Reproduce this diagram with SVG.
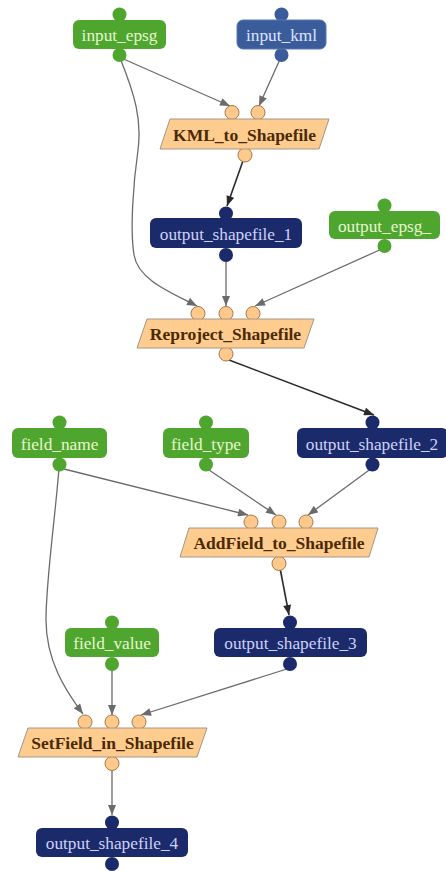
<svg xmlns="http://www.w3.org/2000/svg" width="446" height="871" viewBox="0 0 446 871">
<style>
.e{fill:none;stroke:#6b6b6b;stroke-width:1.3}
.ed{fill:none;stroke:#2a2a2a;stroke-width:1.6}
.g{fill:#4fa62e}
.b{fill:#3b5c9b}
.n{fill:#1b2a6a}
.gt{fill:#e6f6cf}
.bt{fill:#dbe4ff}
.nt{fill:#cdd1f7}
.t{font-family:"Liberation Serif","Times New Roman",serif;font-size:17.3px;text-anchor:middle}
.pt{font-family:"Liberation Serif","Times New Roman",serif;font-size:17.5px;font-weight:bold;text-anchor:middle;fill:#4a2a05}
.p{fill:#ffcc8f;stroke:#a49686;stroke-width:1}
.po{fill:#ffc98b;stroke:#a5784a;stroke-width:1}
</style>
<defs>
<marker id="a" viewBox="0 0 10 8" refX="10" refY="4" markerWidth="11" markerHeight="8" markerUnits="userSpaceOnUse" orient="auto"><path d="M0,0 L10,4 L0,8 z" fill="#6b6b6b"/></marker>
<marker id="ad" viewBox="0 0 10 8" refX="10" refY="4" markerWidth="11" markerHeight="8" markerUnits="userSpaceOnUse" orient="auto"><path d="M0,0 L10,4 L0,8 z" fill="#2a2a2a"/></marker>
</defs>
<rect width="446" height="871" fill="#ffffff"/>
<g id="connectors">
<path class="e" marker-end="url(#a)" d="M119,57 L230,106"/>
<path class="e" marker-end="url(#a)" d="M281,57 L259,106"/>
<path class="e" marker-end="url(#a)" d="M120,58 C135,95 142,120 138,150 C133,185 130,230 134,255 C138,280 172,293 197,306"/>
<path class="ed" marker-end="url(#ad)" d="M244,158 L227,206"/>
<path class="e" marker-end="url(#a)" d="M226,258 L226,306"/>
<path class="e" marker-end="url(#a)" d="M384,248 L255,306"/>
<path class="ed" marker-end="url(#ad)" d="M229,360 L374,415"/>
<path class="e" marker-end="url(#a)" d="M60,468 L248,515"/>
<path class="e" marker-end="url(#a)" d="M206,468 L276,515"/>
<path class="e" marker-end="url(#a)" d="M372,468 L308,515"/>
<path class="e" marker-end="url(#a)" d="M59,468 C55,520 46,580 46,620 C46,660 65,690 83,714"/>
<path class="ed" marker-end="url(#ad)" d="M280,568 L289,615"/>
<path class="e" marker-end="url(#a)" d="M112,668 L112,715"/>
<path class="e" marker-end="url(#a)" d="M290,668 L141,715"/>
<path class="e" marker-end="url(#a)" d="M112,768 L112,815"/>
</g>
<g id="input_epsg">
<circle class="g" cx="119.5" cy="14.5" r="7"/><circle class="g" cx="119.5" cy="55" r="7"/>
<rect class="g" x="73" y="20" width="93" height="29" rx="6"/>
<text class="t gt" x="119.5" y="41">input_epsg</text>
</g>
<g id="input_kml">
<circle class="b" cx="281.5" cy="14.5" r="7"/><circle class="b" cx="281.5" cy="55" r="7"/>
<rect class="b" x="237" y="20" width="89" height="29" rx="6" stroke="#5a78b0" stroke-width="1"/>
<text class="t bt" x="281.5" y="41">input_kml</text>
</g>
<g id="KML_to_Shapefile">
<circle class="po" cx="232" cy="112.5" r="7"/><circle class="po" cx="258" cy="112.5" r="7"/><circle class="po" cx="245" cy="155" r="7"/>
<polygon class="p" points="170,119 329,119 319,149 160,149"/>
<text class="pt" x="244.5" y="141">KML_to_Shapefile</text>
</g>
<g id="output_shapefile_1">
<circle class="n" cx="226" cy="213.5" r="7"/><circle class="n" cx="226" cy="255" r="7"/>
<rect class="n" x="150" y="218" width="152" height="30" rx="6"/>
<text class="t nt" x="226" y="239.5">output_shapefile_1</text>
</g>
<g id="output_epsg_">
<circle class="g" cx="384.5" cy="205.5" r="7"/><circle class="g" cx="384.5" cy="246" r="7"/>
<rect class="g" x="329" y="211" width="111" height="28" rx="6"/>
<text class="t gt" x="384.5" y="231.5">output_epsg_</text>
</g>
<g id="Reproject_Shapefile">
<circle class="po" cx="198" cy="313.5" r="7"/><circle class="po" cx="226" cy="313.5" r="7"/><circle class="po" cx="253" cy="313.5" r="7"/><circle class="po" cx="226" cy="354" r="7"/>
<polygon class="p" points="147,319 314,319 304,348 137,348"/>
<text class="pt" x="225.5" y="340">Reproject_Shapefile</text>
</g>
<g id="field_name">
<circle class="g" cx="59.5" cy="422.5" r="7"/><circle class="g" cx="59.5" cy="464.5" r="7"/>
<rect class="g" x="12" y="428" width="95" height="30" rx="6"/>
<text class="t gt" x="59.5" y="449.5">field_name</text>
</g>
<g id="field_type">
<circle class="g" cx="206" cy="422.5" r="7"/><circle class="g" cx="206" cy="464.5" r="7"/>
<rect class="g" x="163" y="428" width="86" height="30" rx="6"/>
<text class="t gt" x="206" y="449.5">field_type</text>
</g>
<g id="output_shapefile_2">
<circle class="n" cx="372.5" cy="422.5" r="7"/><circle class="n" cx="372.5" cy="464.5" r="7"/>
<rect class="n" x="297" y="428" width="151" height="30" rx="6"/>
<text class="t nt" x="372" y="449.5">output_shapefile_2</text>
</g>
<g id="AddField_to_Shapefile">
<circle class="po" cx="251" cy="522" r="7"/><circle class="po" cx="279" cy="522" r="7"/><circle class="po" cx="306" cy="522" r="7"/><circle class="po" cx="279" cy="563.5" r="7"/>
<polygon class="p" points="189,528 378,528 369,557 180,557"/>
<text class="pt" x="279" y="549">AddField_to_Shapefile</text>
</g>
<g id="field_value">
<circle class="g" cx="112" cy="622.5" r="7"/><circle class="g" cx="112" cy="664" r="7"/>
<rect class="g" x="65" y="628" width="94" height="29" rx="6"/>
<text class="t gt" x="112" y="649">field_value</text>
</g>
<g id="output_shapefile_3">
<circle class="n" cx="290" cy="622.5" r="7"/><circle class="n" cx="290" cy="664" r="7"/>
<rect class="n" x="214" y="628" width="153" height="29" rx="6"/>
<text class="t nt" x="290.5" y="649">output_shapefile_3</text>
</g>
<g id="SetField_in_Shapefile">
<circle class="po" cx="85" cy="722" r="7"/><circle class="po" cx="112" cy="722" r="7"/><circle class="po" cx="139" cy="722" r="7"/><circle class="po" cx="112" cy="763.5" r="7"/>
<polygon class="p" points="28,728 207,728 197,757 18,757"/>
<text class="pt" x="112.5" y="749">SetField_in_Shapefile</text>
</g>
<g id="output_shapefile_4">
<circle class="n" cx="112" cy="822.5" r="7"/><circle class="n" cx="112" cy="864" r="7"/>
<rect class="n" x="36" y="828" width="152" height="29" rx="6"/>
<text class="t nt" x="112" y="849">output_shapefile_4</text>
</g>
</svg>
